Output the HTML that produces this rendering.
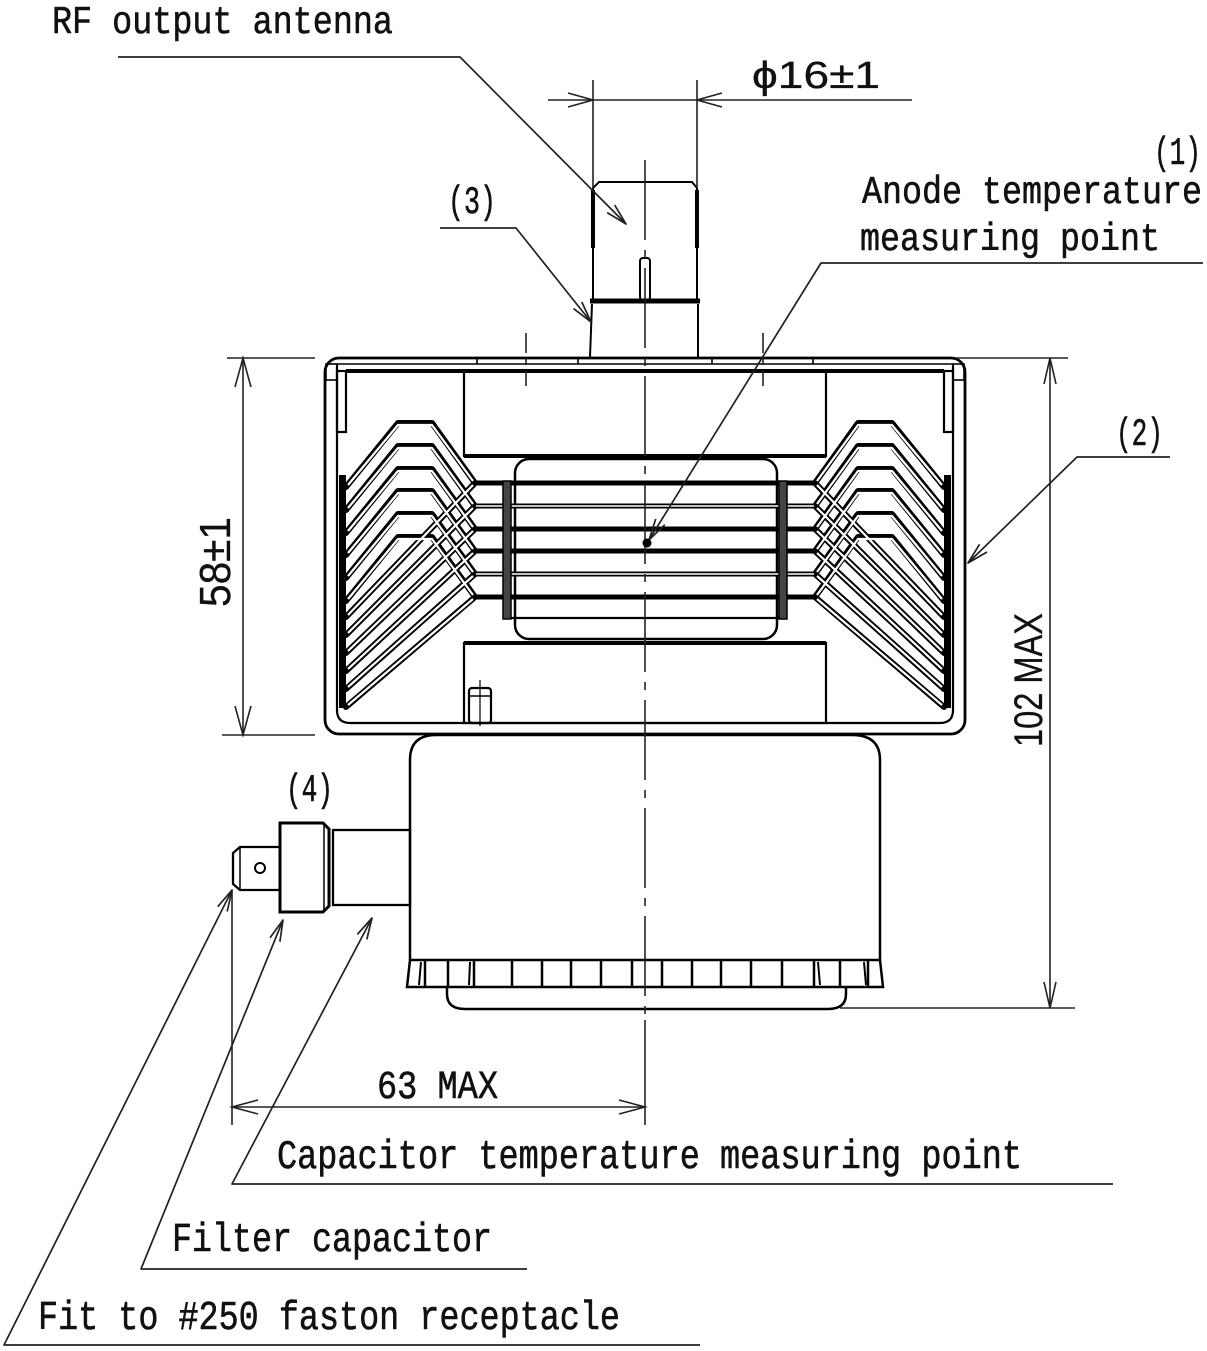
<!DOCTYPE html>
<html><head><meta charset="utf-8"><style>
html,body{margin:0;padding:0;background:#fff;}
svg{display:block;}
.m{font-family:"Liberation Mono","DejaVu Sans Mono",monospace;fill:#111;stroke:#111;stroke-width:0.6;}
.s{font-family:"Liberation Sans","DejaVu Sans",sans-serif;fill:#111;stroke:#111;stroke-width:0.3;}
</style></head><body>
<svg width="1207" height="1351" viewBox="0 0 1207 1351" xmlns="http://www.w3.org/2000/svg">
<rect width="1207" height="1351" fill="#fff"/>

<!-- ===== Antenna ===== -->
<g fill="none" stroke="#000" stroke-width="2">
  <path d="M593,300 L593,188 L599,182 L692,182 L697,188 L697,300"/>
  <line x1="593" y1="190" x2="593" y2="248" stroke-width="4"/>
  <line x1="697" y1="190" x2="697" y2="248" stroke-width="4"/>
  <rect x="640" y="258" width="10" height="42" rx="3"/>
  <line x1="590" y1="301" x2="700" y2="301" stroke-width="5"/>
  <path d="M592,304 L590,357 M698,304 L698,357"/>
</g>

<!-- ===== Magnet frame ===== -->
<g fill="none" stroke="#000" stroke-width="2.2">
  <rect x="325" y="358" width="640" height="376" rx="14" stroke-width="2.8"/>
  <path d="M337,364 L337,710 Q337,723 350,723 L940,723 Q953,723 953,710 L953,364"/>
  <line x1="337" y1="364" x2="953" y2="364" stroke-width="1.6"/>
  <path d="M477,358 V364 M578,358 V364 M712,358 V364 M813,358 V364" stroke-width="1.6"/>
  <line x1="346" y1="371" x2="944" y2="371" stroke-width="4"/>
  <rect x="326" y="364" width="11" height="16" stroke-width="1.6"/>
  <rect x="953" y="364" width="11" height="16" stroke-width="1.6"/>
  <rect x="337" y="371" width="9" height="61"/>
  <rect x="944" y="371" width="9" height="61"/>
  <rect x="464" y="371" width="362" height="85"/>
  <line x1="464" y1="456" x2="826" y2="456" stroke-width="4"/>
  <rect x="464" y="643" width="362" height="80"/>
  <line x1="464" y1="643" x2="826" y2="643" stroke-width="4"/>
  <rect x="469" y="688" width="22" height="35" rx="3"/>
  <line x1="469" y1="696" x2="491" y2="696" stroke-width="1.5"/>
  <line x1="480" y1="680" x2="480" y2="726" stroke-width="1.2"/>
</g>
<rect x="339" y="475" width="7" height="233" fill="#000"/>
<rect x="944" y="475" width="7" height="233" fill="#000"/>

<!-- anode -->
<rect x="515" y="459" width="262" height="180" rx="14" fill="#fff" stroke="#000" stroke-width="2.5"/>

<!-- fins chevrons (black) -->
<g fill="none" stroke="#000" stroke-width="6" stroke-linejoin="round" stroke-linecap="round">
  <path d="M475,483 L432,423 L398,423 L346,487 M475,483 L346,617"/>
  <path d="M475,506 L432,446 L398,446 L346,510 M475,506 L346,635"/>
  <path d="M475,529 L432,469 L398,469 L346,533 M475,529 L346,653"/>
  <path d="M475,551 L432,491 L398,491 L346,555 M475,551 L346,671"/>
  <path d="M475,574 L432,514 L398,514 L346,578 M475,574 L346,689"/>
  <path d="M475,597 L432,537 L398,537 L346,601 M475,597 L346,707"/>
  <path d="M815,483 L858,423 L892,423 L944,487 M815,483 L944,617"/>
  <path d="M815,506 L858,446 L892,446 L944,510 M815,506 L944,635"/>
  <path d="M815,529 L858,469 L892,469 L944,533 M815,529 L944,653"/>
  <path d="M815,551 L858,491 L892,491 L944,555 M815,551 L944,671"/>
  <path d="M815,574 L858,514 L892,514 L944,578 M815,574 L944,689"/>
  <path d="M815,597 L858,537 L892,537 L944,601 M815,597 L944,707"/>
</g>
<g fill="none" stroke="#fff" stroke-width="2.2" stroke-linejoin="round">
  <path d="M473,481 L432,425 L398,425 L348,485 M473,485 L348,615"/>
  <path d="M473,504 L432,448 L398,448 L348,508 M473,508 L348,633"/>
  <path d="M473,527 L432,471 L398,471 L348,531 M473,531 L348,651"/>
  <path d="M473,549 L432,493 L398,493 L348,553 M473,553 L348,669"/>
  <path d="M473,572 L432,516 L398,516 L348,576 M473,576 L348,687"/>
  <path d="M473,595 L432,539 L398,539 L348,599 M473,599 L348,705"/>
  <path d="M817,481 L858,425 L892,425 L942,485 M817,485 L942,615"/>
  <path d="M817,504 L858,448 L892,448 L942,508 M817,508 L942,633"/>
  <path d="M817,527 L858,471 L892,471 L942,531 M817,531 L942,651"/>
  <path d="M817,549 L858,493 L892,493 L942,553 M817,553 L942,669"/>
  <path d="M817,572 L858,516 L892,516 L942,576 M817,576 L942,687"/>
  <path d="M817,595 L858,539 L892,539 L942,599 M817,599 L942,705"/>
</g>

<!-- horizontal fins -->
<g stroke="#000" stroke-width="5">
  <line x1="475" y1="483" x2="815" y2="483"/>
  <line x1="475" y1="506" x2="815" y2="506"/>
  <line x1="475" y1="529" x2="815" y2="529"/>
  <line x1="475" y1="551" x2="815" y2="551"/>
  <line x1="475" y1="574" x2="815" y2="574"/>
  <line x1="475" y1="597" x2="815" y2="597"/>
</g>
<g stroke="#fff" stroke-width="1.6">
  <line x1="476" y1="506" x2="814" y2="506"/>
  <line x1="476" y1="574" x2="814" y2="574"/>
</g>
<line x1="503" y1="618" x2="787" y2="618" stroke="#000" stroke-width="2.2"/>
<rect x="503" y="481" width="8" height="138" fill="#444" stroke="#000" stroke-width="1.5"/>
<rect x="779" y="481" width="8" height="138" fill="#444" stroke="#000" stroke-width="1.5"/>

<!-- ===== Lower body ===== -->
<g fill="none" stroke="#000" stroke-width="2.5">
  <path d="M410,960 L410,760 Q410,735 436,735 L852,735 Q880,735 880,760 L880,960"/>
  <path d="M410,960 L880,960 L883,987 L407,987 Z"/>
  <path d="M425,960 V987 M448,960 V987 M474,960 V987 M512,960 V987 M542,960 V987 M571,960 V987 M601,960 V987 M632,960 V987 M662,960 V987 M692,960 V987 M721,960 V987 M751,960 V987 M782,960 V987 M814,960 V987 M840,960 V987 M868,960 V987"/>
  <path d="M421,962 L419,985 M470,962 L469,985 M818,962 L820,985 M864,962 L866,985" stroke-width="2"/>
  <path d="M447,987 L447,994 Q447,1009 465,1009 L828,1009 Q846,1009 846,994 L846,987"/>
</g>

<!-- ===== Filter ===== -->
<g fill="none" stroke="#000" stroke-width="2.3">
  <rect x="333" y="830" width="77" height="75"/>
  <path d="M280,823 L323,823 L329,829 L329,906 L323,912 L280,912 Z" stroke-width="3"/>
  <line x1="324" y1="824" x2="324" y2="911" stroke-width="1.5"/>
  <path d="M280,847 L240,847 L233,853 L233,884 L240,890 L280,890"/>
  <line x1="240" y1="847" x2="240" y2="890" stroke-width="1.5"/>
  <circle cx="260" cy="868" r="5" stroke-width="2"/>
</g>

<!-- center line -->
<line x1="645" y1="160" x2="645" y2="1020" stroke="#222" stroke-width="1.6" stroke-dasharray="80 10 8 10"/>
<line x1="526" y1="333" x2="526" y2="386" stroke="#222" stroke-width="1.6" stroke-dasharray="20 6 6 6"/>
<line x1="763" y1="333" x2="763" y2="386" stroke="#222" stroke-width="1.6" stroke-dasharray="20 6 6 6"/>

<!-- ===== Dimensions ===== -->
<g fill="none" stroke="#222" stroke-width="1.6">
  <line x1="548" y1="100" x2="912" y2="100"/>
  <line x1="593" y1="80" x2="593" y2="188"/>
  <line x1="697" y1="80" x2="697" y2="188"/>
  <polyline points="568,93 593,100 568,107"/>
  <polyline points="722,93 697,100 722,107"/>
  <line x1="227" y1="358" x2="315" y2="358"/>
  <line x1="222" y1="735" x2="315" y2="735"/>
  <line x1="243" y1="358" x2="243" y2="735"/>
  <polyline points="235,387 243,358 251,387"/>
  <polyline points="235,706 243,735 251,706"/>
  <line x1="955" y1="358" x2="1068" y2="358"/>
  <line x1="840" y1="1008" x2="1075" y2="1008"/>
  <line x1="1050" y1="358" x2="1050" y2="1008"/>
  <polyline points="1044,384 1050,358 1056,384"/>
  <polyline points="1044,982 1050,1008 1056,982"/>
  <line x1="232" y1="890" x2="232" y2="1125"/>
  <line x1="645" y1="1020" x2="645" y2="1125"/>
  <line x1="232" y1="1107" x2="645" y2="1107"/>
  <polyline points="258,1100 232,1107 258,1114"/>
  <polyline points="619,1100 645,1107 619,1114"/>
</g>

<!-- ===== Leaders ===== -->
<g fill="none" stroke="#222" stroke-width="1.7" stroke-linejoin="round">
  <polyline points="118,57 460,57 626,224"/>
  <polyline points="614.7,205.1 626,224 607.2,212.6"/>
  <polyline points="440,228 516,228 591,322"/>
  <polyline points="581.8,302 591,322 573.5,308.6"/>
  <polyline points="1203,263 821,263 649,540"/>
  <polyline points="664.8,524.7 649,540 655.7,519"/>
  <polyline points="1170,457 1077,457 968,563"/>
  <polyline points="987,552 968,563 979.6,544.3"/>
  <polyline points="1113,1184 232,1184 372,918"/>
  <polyline points="357.3,934.4 372,918 366.8,939.4"/>
  <polyline points="527,1269 141,1269 283,920"/>
  <polyline points="270,937.8 283,920 279.9,941.8"/>
  <polyline points="700,1345 4,1345 232,890"/>
  <polyline points="217.7,906.7 232,890 227.2,911.5"/>
</g>
<circle cx="647" cy="543" r="4.5" fill="#000"/>

<!-- ===== Texts ===== -->
<text class="m" x="52" y="33" font-size="39" textLength="341" lengthAdjust="spacingAndGlyphs">RF output antenna</text>
<text class="s" x="752" y="88" font-size="38" textLength="128" lengthAdjust="spacingAndGlyphs">ϕ16±1</text>
<text class="m" x="448" y="213" font-size="39" textLength="48" lengthAdjust="spacingAndGlyphs">(3)</text>
<text class="m" x="1154" y="164" font-size="39" textLength="47" lengthAdjust="spacingAndGlyphs">(1)</text>
<text class="m" x="862" y="203" font-size="39" textLength="340" lengthAdjust="spacingAndGlyphs">Anode temperature</text>
<text class="m" x="860" y="250" font-size="39" textLength="300" lengthAdjust="spacingAndGlyphs">measuring point</text>
<text class="m" x="1116" y="445" font-size="39" textLength="47" lengthAdjust="spacingAndGlyphs">(2)</text>
<text class="s" font-size="44" textLength="90" lengthAdjust="spacingAndGlyphs" transform="translate(230,607) rotate(-90)">58±1</text>
<text class="s" font-size="40" textLength="134" lengthAdjust="spacingAndGlyphs" transform="translate(1042,747) rotate(-90)">102 MAX</text>
<text class="m" x="286" y="801" font-size="39" textLength="47" lengthAdjust="spacingAndGlyphs">(4)</text>
<text class="m" x="377" y="1098" font-size="40" textLength="121" lengthAdjust="spacingAndGlyphs">63 MAX</text>
<text class="m" x="277" y="1168" font-size="41" textLength="745" lengthAdjust="spacingAndGlyphs">Capacitor temperature measuring point</text>
<text class="m" x="172" y="1251" font-size="41" textLength="320" lengthAdjust="spacingAndGlyphs">Filter capacitor</text>
<text class="m" x="38" y="1329" font-size="41" textLength="582" lengthAdjust="spacingAndGlyphs">Fit to #250 faston receptacle</text>
</svg>
</body></html>
